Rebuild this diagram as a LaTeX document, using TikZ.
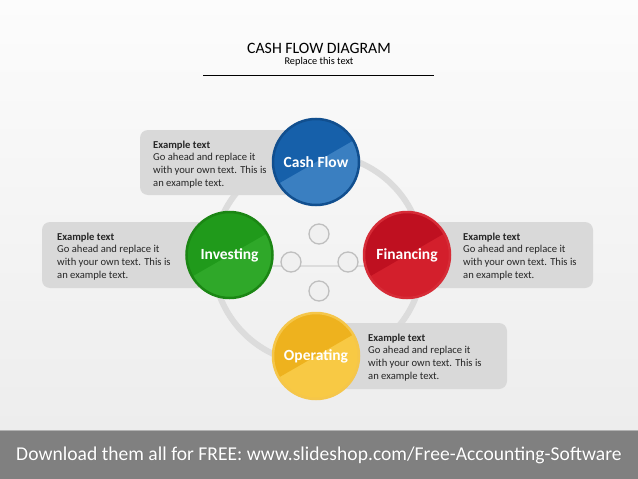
\documentclass[tikz,border=0pt]{standalone}
\usepackage{fontspec}
\setmainfont{Carlito}
\definecolor{bgtop}{HTML}{FCFCFC}
\definecolor{bgbot}{HTML}{EDEDED}
\definecolor{ringgray}{HTML}{DCDCDC}
\definecolor{boxgray}{HTML}{D9D9D9}
\definecolor{txt}{HTML}{262626}
\definecolor{banner}{HTML}{808080}
\definecolor{cfdark}{HTML}{1660AA}
\definecolor{cflight}{HTML}{3A7FC1}
\definecolor{cfborder}{HTML}{114F8F}
\definecolor{indark}{HTML}{209A1B}
\definecolor{inlight}{HTML}{2FA829}
\definecolor{inborder}{HTML}{1B8614}
\definecolor{fidark}{HTML}{BF1020}
\definecolor{filight}{HTML}{D31F2C}
\definecolor{fiborder}{HTML}{D62C37}
\definecolor{opdark}{HTML}{EEB21E}
\definecolor{oplight}{HTML}{F8C944}
\definecolor{opborder}{HTML}{F5C64A}
\tikzset{
  disc/.style n args={3}{circle, minimum size=86pt, inner sep=0pt, fill=#1, draw=#3, line width=2.5pt,
    text=white, font=\fontsize{15.5}{17}\selectfont\bfseries,
    path picture={\fill[#2] (path picture bounding box.center) ++(-86.6,50) -- ++(173.2,-100) -- ++(-50,-86.6) -- ++(-173.2,100) -- cycle;}},
  infotext/.style={anchor=north west, inner sep=0pt, align=left, text=txt, font=\fontsize{10.6}{12.8}\selectfont},
  infobox/.style={fill=boxgray, rounded corners=8pt},
  smallc/.style={circle, minimum size=20pt, inner sep=0pt, fill=white!94!black, draw=black!25, line width=1.3pt}
}
\begin{document}
\begin{tikzpicture}[x=1pt,y=-1pt]
\useasboundingbox (0,0) rectangle (638,479);
\shade[top color=bgtop, bottom color=bgbot] (0,0) rectangle (638,430);
% title
\node[font=\fontsize{15.8}{17}\selectfont, text=black] (title) at (319,48) {CASH FLOW DIAGRAM};
\node[font=\fontsize{10.3}{11}\selectfont, text=black] (sub) at (319,61.5) {Replace this text};
\coordinate (ruleL) at (203,75);
\coordinate (ruleR) at (434,75);
\draw[line width=0.8pt] (ruleL) -- (ruleR);
% ring
\coordinate (ringc) at (318,259);
\draw[ringgray, line width=6pt] (ringc) circle (105);
% inner connector and small circles
\coordinate (hl) at (250,266);
\coordinate (hr) at (390,266);
\draw[ringgray, line width=2pt] (hl) -- (hr);
\node[smallc] (st) at (319,234) {};
\node[smallc] (sl) at (291,262) {};
\node[smallc] (sr) at (348,262) {};
\node[smallc] (sb) at (319,291) {};
% boxes
\fill[infobox] (140,130) rectangle (318,195);
\fill[infobox] (42,222) rectangle (232,288);
\fill[infobox] (405,222) rectangle (593,288);
\fill[infobox] (316,323) rectangle (507,389);
\node[infotext] (t1) at (153,140.5) {\textbf{Example text}\\Go ahead and replace it\\with your own text. This is\\an example text.};
\node[infotext] (t2) at (57,232.5) {\textbf{Example text}\\Go ahead and replace it\\with your own text. This is\\an example text.};
\node[infotext] (t3) at (463,232.5) {\textbf{Example text}\\Go ahead and replace it\\with your own text. This is\\an example text.};
\node[infotext] (t4) at (368,333.5) {\textbf{Example text}\\Go ahead and replace it\\with your own text. This is\\an example text.};
% discs
\node[disc={cflight}{cfdark}{cfborder}] (cash) at (316,162) {Cash Flow};
\node[disc={inlight}{indark}{inborder}] (inv) at (229.5,255) {Investing};
\node[disc={filight}{fidark}{fiborder}] (fin) at (407,255) {Financing};
\node[disc={oplight}{opdark}{opborder}] (op) at (316,356) {Operating};
% banner
\fill[banner] (0,430) rectangle (638,479);
\draw[black!30, line width=1pt] (0,430.5) -- (638,430.5);
\node[font=\fontsize{19.6}{21}\selectfont, text=black!55] (dlshadow) at (319.8,455.8) {Download them all for FREE: www.slideshop.com/Free-Accounting-Software};
\node[font=\fontsize{19.6}{21}\selectfont, text=white] (dl) at (319,455) {Download them all for FREE: www.slideshop.com/Free-Accounting-Software};
\end{tikzpicture}
\end{document}
